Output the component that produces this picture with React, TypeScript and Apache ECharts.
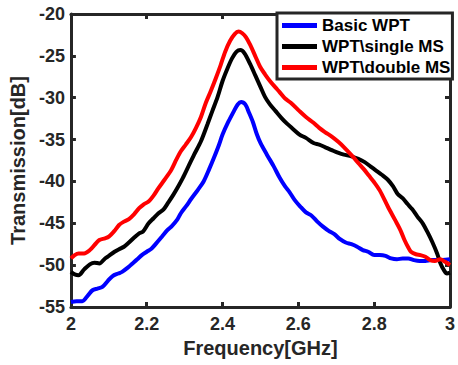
import React, { useEffect, useRef } from "react";
import * as echarts from "echarts";

const seriesNames = ["Basic WPT", "WPT\\single MS", "WPT\\double MS"];
const seriesColors = ["#0000FF", "#000000", "#FF0000"];

const basicWPT: [number, number][] = [
  [2.0, -54.4], [2.015, -54.3], [2.03, -54.3], [2.045, -53.6], [2.057, -53.0], [2.07, -52.8],
  [2.083, -52.6], [2.097, -51.9], [2.11, -51.3], [2.125, -51.0], [2.135, -50.8], [2.15, -50.3],
  [2.16, -49.9], [2.175, -49.3], [2.187, -48.8], [2.2, -48.4], [2.213, -48.0], [2.225, -47.4],
  [2.24, -46.6], [2.255, -45.8], [2.265, -45.4], [2.28, -44.6], [2.29, -43.8], [2.305, -42.9],
  [2.317, -42.1], [2.335, -41.0], [2.35, -40.0], [2.365, -38.5], [2.377, -37.2], [2.39, -35.7],
  [2.4, -34.4], [2.415, -32.9], [2.43, -31.6], [2.44, -30.8], [2.449, -30.5], [2.46, -30.8],
  [2.47, -31.8], [2.48, -32.9], [2.49, -34.3], [2.5, -35.4], [2.517, -36.8], [2.535, -38.2],
  [2.55, -39.5], [2.565, -40.6], [2.577, -41.3], [2.59, -42.2], [2.605, -43.0], [2.62, -43.7],
  [2.635, -44.1], [2.65, -44.8], [2.665, -45.4], [2.68, -45.9], [2.695, -46.3], [2.71, -46.9],
  [2.725, -47.3], [2.74, -47.5], [2.755, -47.8], [2.77, -48.2], [2.784, -48.4], [2.8, -48.8],
  [2.815, -48.8], [2.83, -48.9], [2.845, -49.2], [2.86, -49.3], [2.875, -49.2], [2.89, -49.2],
  [2.905, -49.4], [2.92, -49.5], [2.935, -49.5], [2.95, -49.4], [2.965, -49.4], [2.98, -49.4],
  [3.0, -49.3],
];

const singleMS: [number, number][] = [
  [2.0, -50.8], [2.01, -51.1], [2.02, -51.2], [2.035, -50.5], [2.05, -49.9], [2.062, -49.7],
  [2.075, -49.8], [2.09, -49.2], [2.1, -48.9], [2.115, -48.4], [2.127, -48.1], [2.14, -47.8],
  [2.153, -47.3], [2.167, -46.7], [2.18, -46.2], [2.19, -46.0], [2.205, -45.0], [2.218, -44.4],
  [2.231, -43.8], [2.245, -43.3], [2.257, -42.5], [2.27, -41.6], [2.283, -40.6], [2.295, -39.6],
  [2.31, -38.2], [2.325, -36.8], [2.343, -35.2], [2.36, -33.2], [2.373, -31.6], [2.387, -29.9],
  [2.4, -28.0], [2.413, -26.5], [2.425, -25.3], [2.437, -24.5], [2.447, -24.3], [2.458, -24.7],
  [2.473, -26.0], [2.487, -27.4], [2.5, -28.7], [2.512, -29.9], [2.525, -30.8], [2.54, -31.6],
  [2.555, -32.4], [2.57, -33.1], [2.585, -33.7], [2.603, -34.4], [2.62, -34.8], [2.64, -35.4],
  [2.655, -35.6], [2.67, -35.9], [2.69, -36.3], [2.706, -36.6], [2.72, -36.8], [2.74, -37.0],
  [2.758, -37.3], [2.775, -37.7], [2.79, -38.2], [2.805, -38.7], [2.82, -39.2], [2.836, -39.8],
  [2.85, -40.6], [2.862, -41.5], [2.875, -42.0], [2.888, -42.7], [2.9, -43.3], [2.914, -44.2],
  [2.928, -45.0], [2.94, -46.0], [2.953, -47.2], [2.966, -48.6], [2.975, -49.8], [2.984, -50.6],
  [2.992, -51.0], [3.0, -50.9],
];

const doubleMS: [number, number][] = [
  [2.0, -49.2], [2.01, -48.8], [2.02, -48.6], [2.035, -48.6], [2.05, -48.2], [2.062, -47.6],
  [2.075, -47.0], [2.09, -46.8], [2.1, -46.6], [2.115, -45.9], [2.127, -45.2], [2.14, -44.8],
  [2.153, -44.5], [2.167, -43.9], [2.18, -43.2], [2.193, -42.7], [2.205, -42.4], [2.218, -41.7],
  [2.231, -40.8], [2.247, -39.8], [2.265, -38.6], [2.278, -37.4], [2.29, -36.4], [2.303, -35.6],
  [2.317, -34.7], [2.33, -33.6], [2.343, -32.3], [2.356, -30.6], [2.369, -29.2], [2.382, -27.7],
  [2.395, -26.1], [2.407, -24.5], [2.42, -23.2], [2.432, -22.4], [2.442, -22.1], [2.452, -22.3],
  [2.462, -22.8], [2.473, -23.7], [2.486, -25.0], [2.499, -26.3], [2.512, -27.2], [2.525, -28.0],
  [2.54, -28.8], [2.55, -29.3], [2.565, -30.1], [2.58, -30.6], [2.603, -31.6], [2.62, -32.3],
  [2.64, -33.0], [2.655, -33.6], [2.67, -34.1], [2.69, -34.7], [2.706, -35.3], [2.72, -35.9],
  [2.745, -37.1], [2.758, -37.8], [2.772, -38.5], [2.786, -39.3], [2.8, -40.1], [2.815, -41.1],
  [2.836, -43.0], [2.855, -44.6], [2.87, -45.9], [2.88, -47.0], [2.89, -47.9], [2.897, -48.4],
  [2.91, -48.7], [2.922, -48.8], [2.935, -49.0], [2.948, -49.4], [2.96, -49.5], [2.974, -49.3],
  [2.987, -49.6], [3.0, -50.0],
];

const allSeries = [basicWPT, singleMS, doubleMS];

const xMin = 2;
const xMax = 3;
const xStep = 0.2;
const yMin = -55;
const yMax = -20;
const yStep = 5;

const FONT = "'Liberation Sans', Arial, Helvetica, sans-serif";
const AX = "#262626";

export default function App() {
  const ref = useRef<HTMLDivElement>(null);
  useEffect(() => {
    if (!ref.current) return;
    const chart = echarts.init(ref.current, undefined, { renderer: "svg" });
    const tickCommon = {
      axisLine: { show: true, onZero: false, lineStyle: { color: AX, width: 3 } },
      axisTick: { show: true, inside: true, length: 5, lineStyle: { color: AX, width: 3 } },
      splitLine: { show: false },
    };
    const fmt = (v: number) => String(Math.round(v * 10) / 10);
    chart.setOption({
      animation: false,
      backgroundColor: "#ffffff",
      textStyle: { fontFamily: FONT },
      grid: { left: 68, right: 5, top: 14, bottom: 58, containLabel: false },
      legend: {
        left: 277,
        top: 13,
        orient: "vertical",
        data: seriesNames,
        backgroundColor: "#ffffff",
        borderColor: AX,
        borderWidth: 3,
        borderRadius: 0,
        padding: [4, 2, 3, 5],
        itemGap: 4,
        itemWidth: 35,
        itemHeight: 5,
        icon: "rect",
        z: 10,
        textStyle: { fontFamily: FONT, fontSize: 17, fontWeight: "bold", color: "#000", lineHeight: 17 },
      },
      xAxis: [
        {
          type: "value", min: xMin, max: xMax, interval: xStep, position: "bottom",
          ...tickCommon,
          axisLabel: { fontFamily: FONT, fontSize: 18, fontWeight: "bold", color: AX, margin: 8, formatter: fmt },
          name: "Frequency[GHz]", nameLocation: "middle", nameGap: 31,
          nameTextStyle: { fontFamily: FONT, fontSize: 20, fontWeight: "bold", color: AX },
        },
        {
          type: "value", min: xMin, max: xMax, interval: xStep, position: "top",
          ...tickCommon, axisLabel: { show: false },
        },
      ],
      yAxis: [
        {
          type: "value", min: yMin, max: yMax, interval: yStep, position: "left",
          ...tickCommon,
          axisLabel: { fontFamily: FONT, fontSize: 18, fontWeight: "bold", color: AX, margin: 6 },
          name: "Transmission[dB]", nameLocation: "middle", nameGap: 40,
          nameTextStyle: { fontFamily: FONT, fontSize: 20, fontWeight: "bold", color: AX },
        },
        {
          type: "value", min: yMin, max: yMax, interval: yStep, position: "right",
          ...tickCommon, axisLabel: { show: false },
        },
      ],
      series: allSeries.map((d, i) => ({
        name: seriesNames[i],
        type: "line",
        data: d,
        xAxisIndex: 0,
        yAxisIndex: 0,
        smooth: 0.3,
        showSymbol: false,
        symbol: "none",
        color: seriesColors[i],
        lineStyle: { color: seriesColors[i], width: 4 },
        z: 2,
      })),
    });
    return () => chart.dispose();
  }, []);
  return (
    <div
      ref={ref}
      style={{ position: "fixed", left: 0, top: 0, width: 458, height: 365, background: "#fff" }}
    />
  );
}
